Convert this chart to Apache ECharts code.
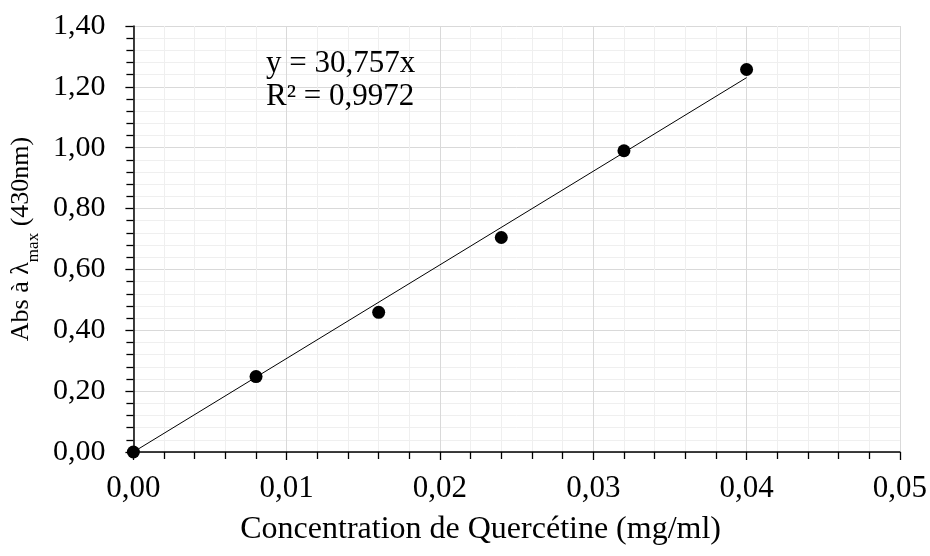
<!DOCTYPE html>
<html>
<head>
<meta charset="utf-8">
<script src="https://cdn.jsdelivr.net/npm/echarts@6/dist/echarts.min.js"></script>
<style>
  html, body { margin: 0; padding: 0; background: #fff; }
  #chart { width: 930px; height: 556px; }
</style>
</head>
<body>
<div id="chart"></div>
<script>
// Quercetin calibration: concentration (mg/ml) vs absorbance at 430 nm
const concentrations = [0, 0.008, 0.016, 0.024, 0.032, 0.04];
const absorbances = [0, 0.248, 0.459, 0.705, 0.990, 1.257];

// Linear regression through origin
const slope = 30.757;
const r2 = 0.9972;
const trendRange = [0, 0.04];

const xAxisRange = [0, 0.05, 0.01];
const yAxisRange = [0, 1.4, 0.2];

const FONT = '"Liberation Serif", "Times New Roman", serif';
const fmt = v => v.toFixed(2).replace('.', ',');
const fmtNum = v => String(v).replace('.', ',');

const points = concentrations.map((c, i) => [c, absorbances[i]]);
const trend = trendRange.map(x => [x, slope * x]);

const chart = echarts.init(document.getElementById('chart'), null, { renderer: 'canvas' });

const axisCommon = {
  type: 'value',
  axisLine: { show: true, onZero: false, lineStyle: { color: '#000', width: 1.5 } },
  axisTick: { show: true, inside: false, length: 8, lineStyle: { color: '#000', width: 1.3 } },
  minorTick: { show: true, splitNumber: 5, length: 7, lineStyle: { color: '#000', width: 1.3 } },
  splitLine: { show: true, lineStyle: { color: '#d9d9d9', width: 1 } },
  minorSplitLine: { show: true, lineStyle: { color: '#efefef', width: 1 } }
};

chart.setOption({
  animation: false,
  backgroundColor: '#fff',
  title: {
    text: 'y = ' + fmtNum(slope) + 'x\nR² = ' + fmtNum(r2),
    left: 266,
    top: 47,
    padding: 0,
    textStyle: { fontFamily: FONT, fontSize: 31, fontWeight: 'normal', color: '#000', lineHeight: 33 }
  },
  grid: { left: 131, right: 29, top: 26, bottom: 104 },
  xAxis: Object.assign({}, axisCommon, {
    min: xAxisRange[0], max: xAxisRange[1], interval: xAxisRange[2],
    name: 'Concentration de Quercétine (mg/ml)',
    nameLocation: 'middle',
    nameGap: 62,
    nameTextStyle: { fontFamily: FONT, color: '#000', fontSize: 32, padding: [0, 72, 0, 0] },
    axisLabel: { formatter: fmt, fontFamily: FONT, fontSize: 31, color: '#000', margin: 21 }
  }),
  yAxis: Object.assign({}, axisCommon, {
    min: yAxisRange[0], max: yAxisRange[1], interval: yAxisRange[2],
    name: '{a|Abs à λ}{s|max}{a| (430nm)}',
    nameLocation: 'middle',
    nameGap: 92,
    nameRotate: 90,
    nameTextStyle: {
      fontFamily: FONT, color: '#000',
      rich: {
        a: { fontFamily: FONT, fontSize: 26, color: '#000', verticalAlign: 'bottom', lineHeight: 28 },
        s: { fontFamily: FONT, fontSize: 17, color: '#000', verticalAlign: 'bottom', lineHeight: 28, padding: [0, 0, -8, 0] }
      }
    },
    axisLabel: { formatter: fmt, fontFamily: FONT, fontSize: 30, color: '#000', margin: 28 }
  }),
  series: [
    {
      type: 'line',
      data: trend,
      symbol: 'none',
      lineStyle: { color: '#000', width: 1 },
      z: 2,
      silent: true
    },
    {
      type: 'scatter',
      data: points,
      symbol: 'circle',
      symbolSize: 13,
      itemStyle: { color: '#000', opacity: 1 },
      z: 3
    }
  ]
});
</script>
</body>
</html>
